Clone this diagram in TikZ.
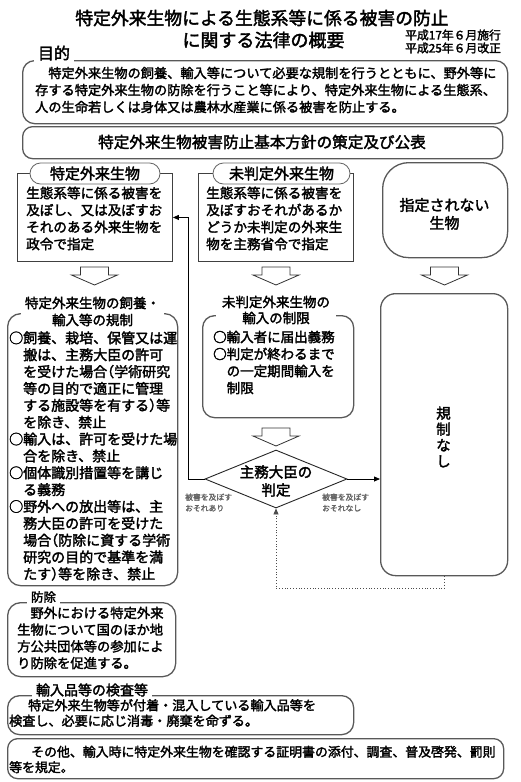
\documentclass[tikz,border=0pt]{standalone}
\usepackage{fontspec}
\setmainfont{Noto Sans CJK JP}[RawFeature={embolden=2.2}]
\usetikzlibrary{shapes.geometric,arrows.meta}
\newcommand\jlp{\makebox[0.5em][r]{（}}
\newcommand\jrp{\makebox[0.5em][l]{）}}
\newcommand\jfs[2]{\fontsize{#1}{#2}\selectfont}
\tikzset{
  rbox/.style={draw=black!65, line width=1.3pt, rounded corners=#1, inner sep=0pt, anchor=north west},
  rbox/.default=12pt,
  sqbox/.style={draw=black!75, line width=0.9pt, inner sep=0pt, anchor=north west},
  pillbox/.style={draw=black!60, line width=0.8pt, fill=white, rounded corners=10.5pt, inner sep=0pt, minimum height=21pt, font=\jfs{15}{18}},
  txt/.style={inner sep=0pt, align=left, anchor=west},
  ttl/.style={inner sep=0pt, inner xsep=4pt, inner ysep=3.5pt, fill=white, align=center},
  lbl/.style={inner sep=0pt, align=left, anchor=west, text=black!60, font=\jfs{7.8}{11}},
  hollow/.style={draw=black!80, line width=0.8pt, fill=white},
  conn/.style={draw=black, line width=0.8pt, -{Triangle[length=6pt,width=5pt]}},
  dotconn/.style={draw=black!70, line width=0.8pt, dotted, -{Triangle[length=6pt,width=5pt]}},
  pics/downarr/.style={code={\draw[hollow] (-14,0) -- (14,0) -- (14,8) -- (23,8) -- (0,18) -- (-23,8) -- (-14,8) -- cycle;}}
}
\begin{document}
\begin{tikzpicture}[x=1pt,y=-1pt]
\path[fill=white,use as bounding box] (0,0) rectangle (520,782);

% titles
\node[inner sep=0pt, font=\jfs{17.8}{20}] (t1) at (262,18) {特定外来生物による生態系等に係る被害の防止};
\node[inner sep=0pt, font=\jfs{18}{20}] (t2) at (263.5,40) {に関する法律の概要};
\node[txt, font=\jfs{11.8}{12}] (d1) at (405,35) {平成17年６月施行};
\node[txt, font=\jfs{11.8}{12}] (d2) at (405,48) {平成25年６月改正};

% purpose
\node[rbox, minimum width=485pt, minimum height=63pt] (purpose) at (22,60) {};
\node[ttl, font=\jfs{16}{18}] (purposettl) at (54,53) {目的};
\node[txt, font=\jfs{13.2}{17}] (purposetxt) at (35,90) {　特定外来生物の飼養、輸入等について必要な規制を行うとともに、野外等に\\存する特定外来生物の防除を行うこと等により、特定外来生物による生態系、\\人の生命若しくは身体又は農林水産業に係る被害を防止する。};

% policy
\node[rbox=10pt, minimum width=480pt, minimum height=32pt] (policy) at (22,126) {};
\node[inner sep=0pt, font=\jfs{15.6}{18}] (policytxt) at (262,142) {特定外来生物被害防止基本方針の策定及び公表};

% designated
\node[sqbox, minimum width=155pt, minimum height=88pt] (tokutei) at (17,173) {};
\node[pillbox, minimum width=130pt] (pill1) at (95,173.5) {特定外来生物};
\node[txt, font=\jfs{13.6}{17}] (tokuteitxt) at (26,218.5) {生態系等に係る被害を\\及ぼし、又は及ぼすお\\それのある外来生物を\\政令で指定};

% uncategorized
\node[sqbox, minimum width=155pt, minimum height=88pt] (mihantei) at (198,173) {};
\node[pillbox, minimum width=137pt] (pill2) at (281.5,173.5) {未判定外来生物};
\node[txt, font=\jfs{13.6}{17}] (mihanteitxt) at (206,218.5) {生態系等に係る被害を\\及ぼすおそれがあるか\\どうか未判定の外来生\\物を主務省令で指定};

% not designated
\node[rbox=26pt, minimum width=125pt, minimum height=95pt] (notdes) at (382,162) {};
\node[inner sep=0pt, align=center, font=\jfs{15}{18}] (notdestxt) at (444.5,214) {指定されない\\生物};

% hollow arrows
\pic at (94.5,267) {downarr};
\pic at (276,267) {downarr};
\pic at (444.5,267) {downarr};
\pic at (276,428) {downarr};

% regulation box
\node[rbox=13pt, minimum width=170pt, minimum height=272pt] (reg) at (7,313) {};
\node[ttl, inner ysep=0pt, font=\jfs{13.5}{17}] (regttl) at (92.5,311.5) {特定外来生物の飼養・\\輸入等の規制};
\node[txt, font=\jfs{14}{16.86}] (regtxt) at (9,456) {○飼養、栽培、保管又は運\\　搬は、主務大臣の許可\\　を受けた場合\jlp 学術研究\\　等の目的で適正に管理\\　する施設等を有する\jrp 等\\　を除き、禁止\\○輸入は、許可を受けた場\\　合を除き、禁止\\○個体識別措置等を講じ\\　る義務\\○野外への放出等は、主\\　務大臣の許可を受けた\\　場合\jlp 防除に資する学術\\　研究の目的で基準を満\\　たす\jrp 等を除き、禁止};

% restriction box
\node[rbox=12pt, minimum width=151pt, minimum height=102pt] (restrict) at (202,315) {};
\node[ttl, inner xsep=6pt, inner ysep=0pt, font=\jfs{13.5}{16}] (restrictttl) at (276,310) {未判定外来生物の\\輸入の制限};
\node[txt, font=\jfs{13.5}{17}] (restricttxt) at (213,362.5) {○輸入者に届出義務\\○判定が終わるまで\\　の一定期間輸入を\\　制限};

% judgement
\node[draw=black!85, line width=0.9pt, diamond, minimum width=142pt, minimum height=58pt, inner sep=0pt] (judge) at (276,479) {};
\node[inner sep=0pt, align=center, font=\jfs{14.5}{18}] (judgetxt) at (276,481) {主務大臣の\\判定};
\node[lbl] (lblyes) at (185,502.5) {被害を及ぼす\\おそれあり};
\node[lbl] (lblno) at (322,502.5) {被害を及ぼす\\おそれなし};

% no regulation
\node[rbox=15pt, minimum width=127pt, minimum height=282pt] (nore) at (380,293) {};
\node[inner sep=0pt, align=center, font=\jfs{14.5}{16}] (noretxt) at (443.5,437) {規\\制\\な\\し};

% connectors
\coordinate (vline) at (188,0);
\draw[conn] (judge.west) -- (judge.west -| vline) |- (tokutei.east);
\draw[conn] (judge.east) -- (nore.west |- judge.east);
\draw[dotconn] (nore.south) -- ++(0,12) -| (judge.south);

% extermination
\node[rbox=13pt, minimum width=168pt, minimum height=74pt] (bojo) at (7,602) {};
\node[ttl, font=\jfs{12.5}{15}] (bojottl) at (43.5,597) {防除};
\node[txt, font=\jfs{13.3}{16.7}] (bojotxt) at (17,638) {　野外における特定外来\\生物について国のほか地\\方公共団体等の参加によ\\り防除を促進する。};

% inspection
\node[rbox=12pt, minimum width=346pt, minimum height=39pt] (inspect) at (7,695) {};
\node[ttl, inner ysep=0.5pt, font=\jfs{14}{16}] (inspectttl) at (92,690) {輸入品等の検査等};
\node[txt, font=\jfs{13.1}{15.5}] (inspecttxt) at (9,713) {\hspace*{19pt}特定外来生物等が付着・混入している輸入品等を\\検査し、必要に応じ消毒・廃棄を命ずる。};

% others
\node[rbox=10pt, minimum width=496pt, minimum height=40pt] (other) at (7,738) {};
\node[txt, font=\jfs{12.9}{15.5}] (othertxt) at (9,759.5) {\hspace*{22pt}その他、輸入時に特定外来生物を確認する証明書の添付、調査、普及啓発、罰則\\等を規定。};
\end{tikzpicture}
\end{document}
